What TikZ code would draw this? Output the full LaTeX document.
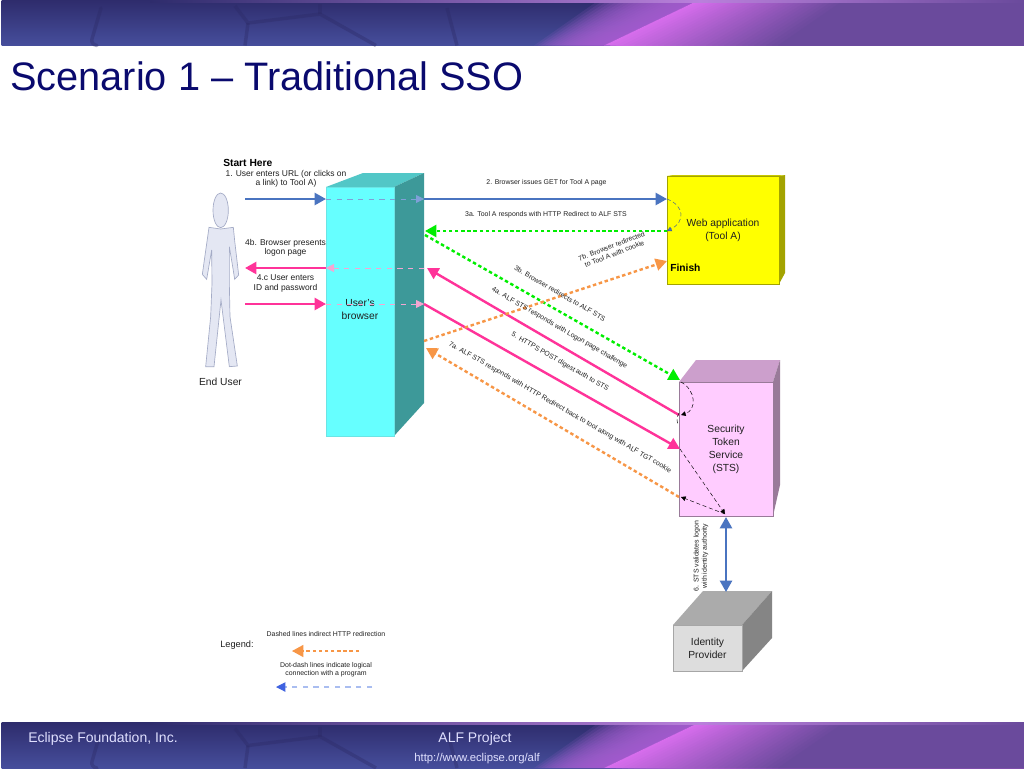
\documentclass[tikz,border=0pt]{standalone}
\usepackage{fontspec}
\setmainfont{Liberation Sans}
\usetikzlibrary{arrows.meta,calc}
\definecolor{bandtop}{HTML}{2E2C6C}
\definecolor{bandbot}{HTML}{464E9C}
\definecolor{crack}{HTML}{2C2A66}
\definecolor{bandmid}{HTML}{A860D2}
\definecolor{bandpink}{HTML}{D66DEC}
\definecolor{bandpurple}{HTML}{6A4A9C}
\definecolor{titleblue}{HTML}{0A0A6E}
\definecolor{arrowblue}{HTML}{4A74C0}
\definecolor{arrowpink}{HTML}{FF3399}
\definecolor{arrowgreen}{HTML}{00EE00}
\definecolor{arroworange}{HTML}{F79646}
\definecolor{lightblue}{HTML}{7FA0D8}
\definecolor{lightpink}{HTML}{F5A6D2}
\definecolor{textgrey}{HTML}{202020}
\definecolor{browserfront}{HTML}{66FFFF}
\definecolor{browsertop}{HTML}{52C7C7}
\definecolor{browserside}{HTML}{3D9999}
\definecolor{webfront}{HTML}{FFFF00}
\definecolor{webside}{HTML}{A3A300}
\definecolor{stsfront}{HTML}{FFCCFF}
\definecolor{ststop}{HTML}{CC9FCC}
\definecolor{stsside}{HTML}{997A99}
\definecolor{idfront}{HTML}{DDDDDD}
\definecolor{idtop}{HTML}{ABABAB}
\definecolor{idside}{HTML}{858585}
\definecolor{personfill}{HTML}{E4E7F3}
\definecolor{personline}{HTML}{A4ABC6}
\definecolor{legendblue}{HTML}{3F62E0}
\definecolor{legendline}{HTML}{A9BDF0}
\newcommand{\mkband}[1]{%
  \begin{scope}[shift={(0,#1)}]
    \fill[bottom color=bandbot,top color=bandtop] (1.5,0) rectangle (1024,45.5);
    \draw[crack,line width=2.6pt,opacity=.38,line cap=round] (101,8) -- (92,39) .. controls (91,42) and (93,45) .. (97,45.5);
    \draw[crack,line width=2.6pt,opacity=.38] (235,6) -- (248,23) -- (320,14) -- (376,45.5);
    \draw[crack,line width=2.6pt,opacity=.38] (248,23) -- (245,45.5);
    \draw[crack,line width=2.6pt,opacity=.38] (320,14) -- (320,4);
    \draw[crack,line width=2.6pt,opacity=.38] (447,8) -- (457,45.5);
    \foreach \i in {0,...,19}{
      \fill[bandmid,opacity=.14] ({699-100+5*\i},0) -- (699,0) -- (604,45.5) -- ({604-70+3.5*\i},45.5) -- cycle;
    }
    \foreach \i in {0,...,29}{
      \pgfmathsetmacro{\pct}{100-\i*100/29}
      \colorlet{stripcol}{bandpink!\pct!bandpurple}
      \fill[stripcol] ({699+5*\i},0) -- (1024,0) -- (1024,45.5) -- ({604+6*\i},45.5) -- cycle;
    }
    \fill[left color=bandtop,right color=bandmid!80!white] (150,0) rectangle (700,2);
    \fill[left color=bandmid!80!white,right color=bandpurple] (700,0) rectangle (1024,2);
  \end{scope}}
\tikzset{
  x=.75pt,y=-.75pt,
  facebox/.style={inner sep=0pt,outer sep=0pt,draw=#1,line width=.4pt},
  tiny/.style={font=\fontsize{5.2}{6.1}\selectfont,text=textgrey,align=center,inner sep=0pt},
  lab/.style={font=\fontsize{6.35}{7}\selectfont,text=textgrey,align=center,inner sep=0pt},
  big/.style={font=\fontsize{7.7}{9.75}\selectfont,text=textgrey,align=center,inner sep=0pt},
  solidarrow/.style={draw=#1,line width=1.8pt,-{Triangle[length=8.5pt,width=9pt,fill=#1,color=#1]}},
  dasharrow/.style={draw=#1,line width=1.8pt,dash pattern=on 2.6pt off 2pt,-{Triangle[length=8.5pt,width=9pt,fill=#1,color=#1]}},
  ghost/.style={draw=#1,line width=.6pt,dash pattern=on 4pt off 4pt,-{Triangle[length=6pt,width=6pt,fill=#1,color=#1]}},
  logic/.style={draw=black,line width=.35pt,dash pattern=on 3pt off 2pt,-{Triangle[length=3.5pt,width=3.5pt,fill=black]}},
  logicblue/.style={draw=arrowblue!80!black,line width=.35pt,dash pattern=on 3pt off 2pt,-{Triangle[length=3.5pt,width=3.5pt,fill=arrowblue]}},
}
\begin{document}
\begin{tikzpicture}
\useasboundingbox (0,0) rectangle (1024,768);
\fill[white] (0,0) rectangle (1024,768);
\mkband{0}
\mkband{722.5}
\node[anchor=base west,inner sep=0pt,text=titleblue,font=\fontsize{29.8}{32}\selectfont] (title) at (10,90) {Scenario 1 – Traditional SSO};
\node[anchor=base west,inner sep=0pt,text=white!88!blue,font=\fontsize{10.5}{12}\selectfont] (foota) at (28,742) {Eclipse Foundation, Inc.};
\node[anchor=base,inner sep=0pt,text=white!88!blue,font=\fontsize{10.5}{12}\selectfont] (footb) at (475,742) {ALF Project};
\node[anchor=base,inner sep=0pt,text=white!88!blue,font=\fontsize{8.5}{10}\selectfont] (footc) at (477,761) {http://www.eclipse.org/alf};

% person
\begin{scope}[shift={(190,150)},x=.25pt,y=-.25pt]
  \draw[fill=personfill,draw=personline,line width=.5pt]
    (57,232) -- (92,237) -- (130,232) -- (134,272) -- (146,375) -- (134,388) -- (130,362) -- (118,290) -- (118,400) -- (120,500) -- (142,648) -- (118,650) -- (93,450) -- (72,650) -- (47,650) -- (62,500) -- (66,400) -- (65,300) -- (50,388) -- (37,373) -- cycle;
  \draw[fill=personfill,draw=personline,line width=.5pt] (92,181) ellipse [x radius=23,y radius=52];
\end{scope}
\node[big] (enduser) at (220.5,382) {End User};

% browser box
\fill[browsertop] (326,187) -- (363,173) -- (424,173) -- (394,187) -- cycle;
\fill[browserside] (394,187) -- (424,173) -- (424,403) -- (394,436) -- cycle;
\node[facebox=browserfront!80!gray,fill=browserfront,minimum width=51pt,minimum height=186.75pt] (browser) at (360,311.5) {};
\node[big] (browserlabel) at (360,310) {User’s\\browser};

% web application box
\fill[webside] (779,176) -- (785,175) -- (785,273) -- (779,284) -- cycle;
\fill[webside!60!webfront] (667,176) -- (673,175) -- (785,175) -- (779,176) -- cycle;
\node[facebox=webside,fill=webfront,minimum width=84pt,minimum height=81pt] (web) at (723,230) {};
\node[big] (weblabel) at (723,230) {Web application\\(Tool A)};
\node[anchor=base west,inner sep=0pt,font=\bfseries\fontsize{7.7}{9}\selectfont] (finish) at (670,271) {Finish};

% STS box
\fill[ststop] (679,382) -- (696,360) -- (780,360) -- (773,382) -- cycle;
\fill[stsside] (773,382) -- (780,360) -- (780,485) -- (773,516) -- cycle;
\node[facebox=stsside,fill=stsfront,minimum width=70.5pt,minimum height=100.5pt] (sts) at (726,449) {};
\node[big] (stslabel) at (726,449.5) {Security\\Token\\Service\\(STS)};

% identity provider box
\fill[idtop] (673,625) -- (703,591) -- (772,591) -- (742,625) -- cycle;
\fill[idside] (742,625) -- (772,591) -- (772,638) -- (742,671) -- cycle;
\node[facebox=gray!70,fill=idfront,minimum width=51.75pt,minimum height=34.5pt] (idp) at (707.5,648) {};
\node[big] (idplabel) at (707.5,648) {Identity\\Provider};

% connector end points
\coordinate (u1) at (245,199);
\coordinate (b1) at (326,199);
\coordinate (b1r) at (424,199);
\coordinate (w1) at (667,199);
\coordinate (w2) at (667,231);
\coordinate (b2) at (425,231);
\coordinate (b3) at (425,235);
\coordinate (s3) at (680,380);
\coordinate (s4) at (679,415);
\coordinate (b4) at (427,268);
\coordinate (b4l) at (326,268);
\coordinate (u4) at (245,268);
\coordinate (u5) at (245,304);
\coordinate (b5) at (326,304);
\coordinate (b5r) at (424,304);
\coordinate (s5) at (680,449);
\coordinate (s7) at (679,497);
\coordinate (b7) at (426,348);
\coordinate (b8) at (424,341);
\coordinate (w8) at (667,261);
\coordinate (s6) at (726,517);
\coordinate (i6) at (726,592);
\coordinate (sb) at (725,514);
\coordinate (ss) at (681,382);
\coordinate (sl) at (681,415);
\coordinate (lega) at (359,651);
\coordinate (legb) at (292,651);
\coordinate (legc) at (372,687);
\coordinate (legd) at (276,687);

% connectors
\draw[solidarrow=arrowblue] (u1) -- (b1);
\draw[ghost=lightblue] (b1) -- (b1r);
\draw[solidarrow=arrowblue] (b1r) -- (w1);
\draw[dasharrow=arrowgreen] (w2) -- (b2);
\draw[dasharrow=arrowgreen] (b3) -- (s3);
\draw[solidarrow=arrowpink] (s4) -- (b4);
\draw[ghost=lightpink] (b4) ++(-3,0) -- (b4l);
\draw[solidarrow=arrowpink] (b4l) -- (u4);
\draw[solidarrow=arrowpink] (u5) -- (b5);
\draw[ghost=lightpink] (b5) -- (b5r);
\draw[solidarrow=arrowpink] (b5r) -- (s5);
\draw[dasharrow=arroworange] (s7) -- (b7);
\draw[dasharrow=arroworange] (b8) -- (w8);
\draw[draw=arrowblue,line width=1.8pt,{Triangle[length=8.5pt,width=9pt,fill=arrowblue,color=arrowblue]}-{Triangle[length=8.5pt,width=9pt,fill=arrowblue,color=arrowblue]}] (s6) -- (i6);
\draw[logicblue] (w1) .. controls (685,206) and (685,222) .. (w2);
\draw[logic] (ss) .. controls (696,390) and (697,410) .. (sl);
\draw[draw=black,line width=.35pt,dash pattern=on 3pt off 2pt] (679,413) .. controls (676,418) and (677,422) .. (678,424);
\draw[logic] (s5) -- (sb);
\draw[logic] (sb) -- (681,497);
\draw[draw=arroworange,line width=1pt,dash pattern=on 2.6pt off 2pt,-{Triangle[length=8.5pt,width=9pt,fill=arroworange,color=arroworange]}] (lega) -- (legb);
\draw[draw=legendline,line width=.8pt,dash pattern=on 4pt off 4pt,-{Triangle[length=7pt,width=7pt,fill=legendblue,color=legendblue]}] (legc) -- (legd);

% labels
\node[anchor=base west,inner sep=0pt,font=\bfseries\fontsize{7.7}{8}\selectfont] (start) at (223,166.5) {Start Here};
\node[lab] (l1) at (286,179) {1. User enters URL (or clicks on\\a link) to Tool A)};
\node[tiny] (l2) at (546.5,183) {2. Browser issues GET for Tool A page};
\node[tiny] (l3a) at (546,214.5) {3a. Tool A responds with HTTP Redirect to ALF STS};
\node[tiny,rotate=-30] (l3b) at (560,293.5) {3b. Browser redirects to ALF STS};
\node[tiny,rotate=-30] (l4a) at (559.5,328) {4a. ALF STS responds with Logon page challenge};
\node[lab] (l4b) at (285.5,247.5) {4b. Browser presents\\logon page};
\node[lab] (l4c) at (285.5,283.5) {4.c User enters\\ID and password};
\node[tiny,rotate=-30] (l5) at (560,362) {5. HTTPS POST digest auth to STS};
\node[tiny,rotate=90] (l6) at (701,556) {6. STS validates logon\\with identity authority};
\node[tiny,rotate=-30] (l7a) at (560,407.5) {7a. ALF STS responds with HTTP Redirect back to tool along with ALF TGT cookie};
\node[tiny,rotate=21] (l7b) at (613,250) {7b. Browser redirected\\to Tool A with cookie};
\node[lab,font=\fontsize{6.9}{8}\selectfont] (legend) at (237,645) {Legend:};
\node[tiny] (leg1) at (326,634.5) {Dashed lines indirect HTTP redirection};
\node[tiny] (leg2) at (326,669.5) {Dot-dash lines indicate logical\\connection with a program};
\end{tikzpicture}
\end{document}
